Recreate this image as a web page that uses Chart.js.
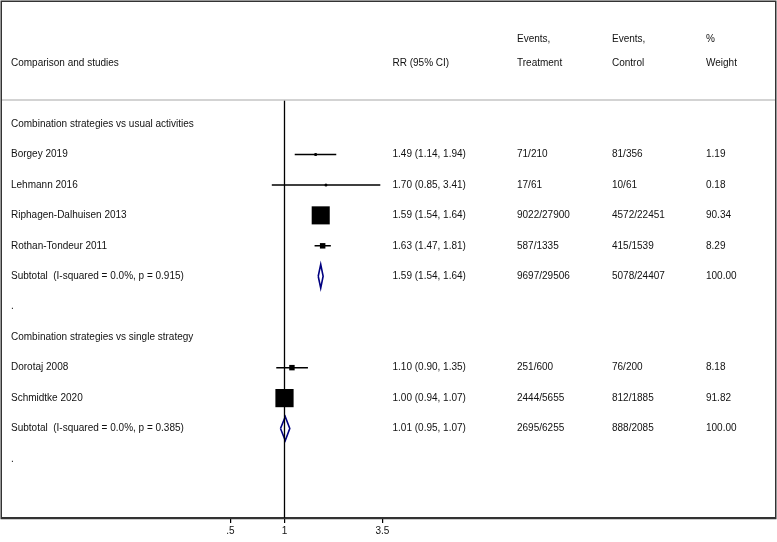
<!DOCTYPE html>
<html>
<head>
<meta charset="utf-8">
<script src="https://cdn.jsdelivr.net/npm/chart.js@4/dist/chart.umd.min.js"></script>
<style>
html,body{margin:0;padding:0;background:#fff;}
#wrap{width:777px;height:542px;}
</style>
</head>
<body>
<div id="wrap"><canvas id="c" width="777" height="542"></canvas></div>
<script>
// ---- data ----
const rowLabels = [
  'Combination strategies vs usual activities',
  'Borgey 2019',
  'Lehmann 2016',
  'Riphagen-Dalhuisen 2013',
  'Rothan-Tondeur 2011',
  'Subtotal  (I-squared = 0.0%, p = 0.915)',
  '.',
  'Combination strategies vs single strategy',
  'Dorotaj 2008',
  'Schmidtke 2020',
  'Subtotal  (I-squared = 0.0%, p = 0.385)',
  '.'
];
const rrText = ['', '1.49 (1.14, 1.94)', '1.70 (0.85, 3.41)', '1.59 (1.54, 1.64)', '1.63 (1.47, 1.81)', '1.59 (1.54, 1.64)', '',
  '', '1.10 (0.90, 1.35)', '1.00 (0.94, 1.07)', '1.01 (0.95, 1.07)', ''];
const treatText = ['', '71/210', '17/61', '9022/27900', '587/1335', '9697/29506', '',
  '', '251/600', '2444/5655', '2695/6255', ''];
const ctrlText = ['', '81/356', '10/61', '4572/22451', '415/1539', '5078/24407', '',
  '', '76/200', '812/1885', '888/2085', ''];
const weightText = ['', '1.19', '0.18', '90.34', '8.29', '100.00', '',
  '', '8.18', '91.82', '100.00', ''];

const studyRows = [1, 2, 3, 4, 8, 9];
const studyRR = [1.49, 1.70, 1.59, 1.63, 1.10, 1.00];
const studyLo = [1.14, 0.85, 1.54, 1.47, 0.90, 0.94];
const studyHi = [1.94, 3.41, 1.64, 1.81, 1.35, 1.07];
const studyWeight = [1.19, 0.18, 90.34, 8.29, 8.18, 91.82];

const subRows = [5, 10];
const subRR = [1.59, 1.01];
const subLo = [1.54, 0.95];
const subHi = [1.64, 1.07];

const xTicks = [0.5, 1, 3.5];
const nullValue = 1;

// ---- build ----
const FONT = '"Liberation Sans", Arial, sans-serif';
const Y_MIN = -0.788, Y_MAX = 12.937;

const ciData = [];
studyRows.forEach((r, i) => {
  ciData.push({x: studyLo[i], y: r}, {x: studyHi[i], y: r}, {x: null, y: null});
});
const boxData = studyRows.map((r, i) => ({x: studyRR[i], y: r}));
const boxRadius = studyWeight.map(w => 1.344 * Math.sqrt(w));

const datasets = [
  {data: [{x: nullValue, y: Y_MIN}, {x: nullValue, y: Y_MAX}], showLine: true, borderColor: '#000', borderWidth: 1.3, pointRadius: 0},
  {data: ciData, showLine: true, spanGaps: false, borderColor: '#000', borderWidth: 1.5, pointRadius: 0},
  {data: boxData, showLine: false, pointStyle: 'rect', pointRadius: boxRadius, backgroundColor: '#000', borderWidth: 0, pointBorderWidth: 0},
  {data: boxData, showLine: false, pointStyle: 'circle', pointRadius: 1.5, backgroundColor: '#000', pointBorderWidth: 0}
];
subRows.forEach((r, i) => {
  const h = 0.39;
  datasets.push({
    data: [{x: subLo[i], y: r}, {x: subRR[i], y: r - h}, {x: subHi[i], y: r}, {x: subRR[i], y: r + h}, {x: subLo[i], y: r}],
    showLine: true, borderColor: '#000080', borderWidth: 1.6, pointRadius: 0, fill: false
  });
});

const overlay = {
  id: 'overlay',
  beforeDraw(chart) {
    const ctx = chart.ctx;
    ctx.save();
    ctx.fillStyle = '#fff';
    ctx.fillRect(0, 0, chart.width, chart.height);
    ctx.restore();
  },
  afterDraw(chart) {
    const ctx = chart.ctx;
    const ys = chart.scales.y;
    const area = chart.chartArea;
    ctx.save();
    // header separator
    ctx.strokeStyle = '#c4c4c4';
    ctx.lineWidth = 1.5;
    ctx.beginPath();
    ctx.moveTo(area.left, area.top);
    ctx.lineTo(area.right, area.top);
    ctx.stroke();
    // frame
    ctx.strokeStyle = '#333';
    ctx.lineWidth = 1.5;
    ctx.strokeRect(1.25, 1.25, area.right - 0.5, area.bottom - 0.75);
    // texts
    ctx.fillStyle = '#111';
    ctx.font = '10px ' + FONT;
    ctx.textBaseline = 'middle';
    ctx.textAlign = 'left';
    const h1 = ys.getPixelForValue(-2.78), h2 = ys.getPixelForValue(-2.0);
    ctx.fillText('Comparison and studies', 11, h2);
    ctx.fillText('RR (95% CI)', 392.5, h2);
    ctx.fillText('Events,', 517, h1);
    ctx.fillText('Treatment', 517, h2);
    ctx.fillText('Events,', 612, h1);
    ctx.fillText('Control', 612, h2);
    ctx.fillText('%', 706, h1);
    ctx.fillText('Weight', 706, h2);
    rowLabels.forEach((lab, r) => {
      const y = ys.getPixelForValue(r);
      ctx.fillText(lab, 11, y);
      ctx.fillText(rrText[r], 392.5, y);
      ctx.fillText(treatText[r], 517, y);
      ctx.fillText(ctrlText[r], 612, y);
      ctx.fillText(weightText[r], 706, y);
    });
    ctx.restore();
  }
};

new Chart(document.getElementById('c'), {
  type: 'scatter',
  data: {datasets},
  options: {
    responsive: false,
    animation: false,
    devicePixelRatio: 1,
    layout: {autoPadding: false, padding: {top: 100, left: 2, right: 2, bottom: 0}},
    plugins: {legend: {display: false}, tooltip: {enabled: false}},
    elements: {line: {tension: 0}},
    scales: {
      x: {
        type: 'logarithmic',
        min: 0.02687,
        max: 533.7,
        bounds: 'data',
        afterBuildTicks: s => { s.ticks = xTicks.map(v => ({value: v})); },
        afterFit: s => { s.height = 24; },
        grid: {display: true, drawOnChartArea: false, drawTicks: true, tickLength: 5, color: '#000', lineWidth: 1.2},
        border: {display: true, color: '#333', width: 1.5},
        ticks: {
          autoSkip: false, maxRotation: 0, padding: 2, color: '#111',
          font: {size: 10, family: FONT},
          callback: v => (v === 0.5 ? '.5' : String(v))
        }
      },
      y: {
        type: 'linear', reverse: true, min: Y_MIN, max: Y_MAX, display: false
      }
    }
  },
  plugins: [overlay]
});
</script>
</body>
</html>
